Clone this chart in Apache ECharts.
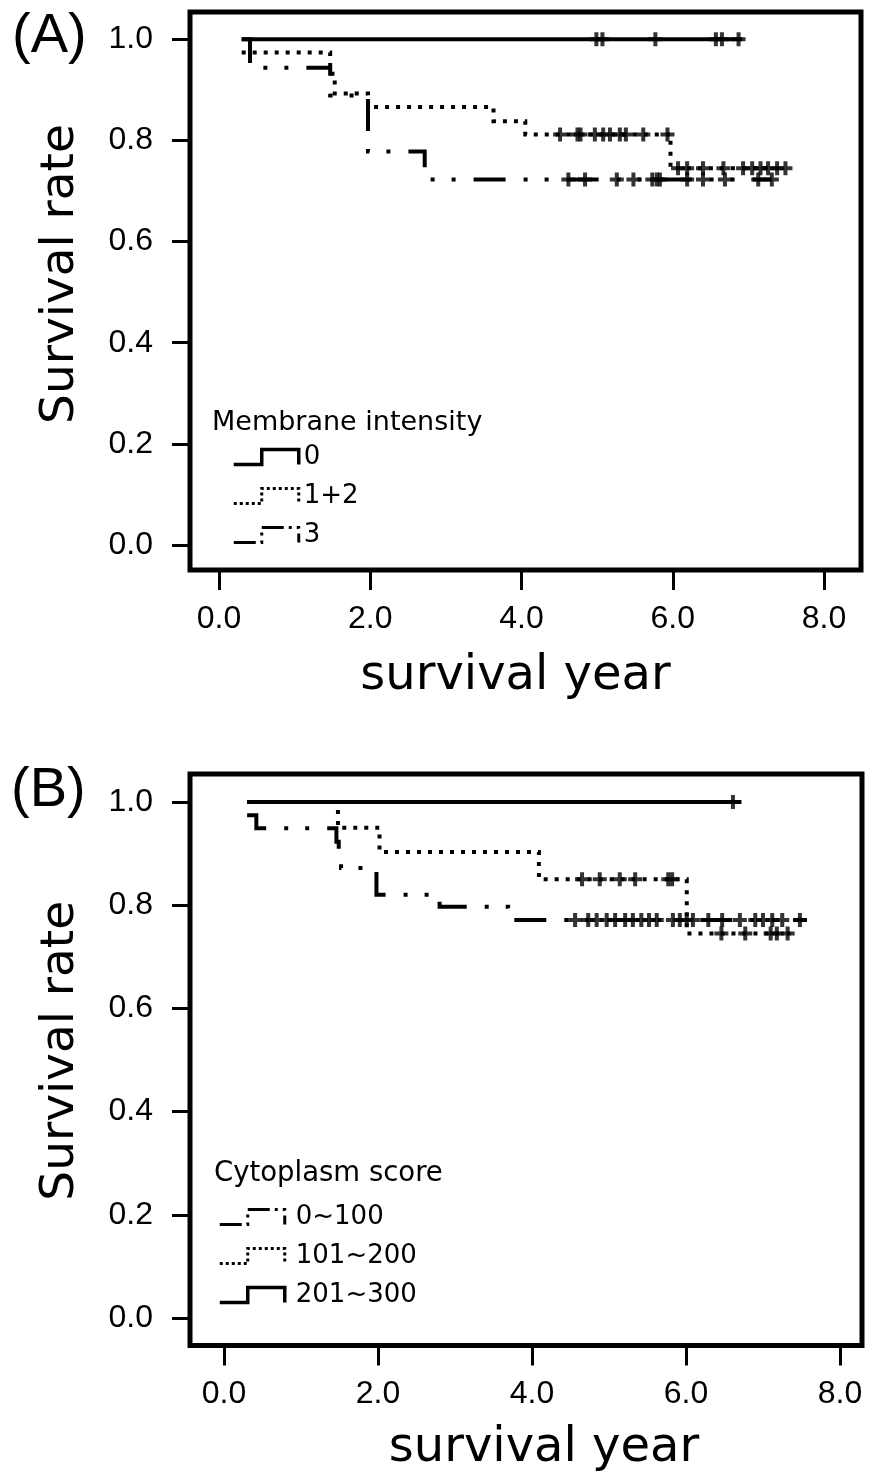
<!DOCTYPE html>
<html><head><meta charset="utf-8">
<script src="https://cdn.jsdelivr.net/npm/echarts@6/dist/echarts.min.js"></script>
<style>html,body{margin:0;padding:0;background:#fff}#c{width:883px;height:1477px}</style>
</head><body><div id="c"></div>
<script>
// ---------- shared tick labels ----------
const xTicks = [0, 2, 4, 6, 8];
const yTicks = [0, 0.2, 0.4, 0.6, 0.8, 1.0];

// ---------- Panel A : Membrane intensity ----------
const aLegendTitle = 'Membrane intensity';
const aNames = ['0', '1+2', '3'];
const aTime0 = [0.30, 6.92];
const aSurv0 = [1.0, 1.0];
const aCens0 = [4.99, 5.07, 5.77, 6.57, 6.65, 6.87];
const aTime12 = [0.30, 1.47, 1.50, 1.53, 1.97, 3.63, 4.05, 5.97, 7.50];
const aSurv12 = [0.974, 0.947, 0.921, 0.893, 0.866, 0.838, 0.812, 0.745, 0.745];
const aCens12 = [4.51, 4.74, 4.78, 4.97, 5.08, 5.17, 5.30, 5.38, 5.61, 5.93,
                 6.07, 6.19, 6.40, 6.67, 6.93, 7.05, 7.16, 7.26, 7.38, 7.49];
const aTime3 = [0.30, 0.41, 1.47, 1.97, 2.72, 7.31];
const aSurv3 = [1.0, 0.944, 0.889, 0.778, 0.723, 0.723];
const aCens3 = [4.62, 4.84, 5.26, 5.48, 5.73, 5.79, 5.83, 6.19, 6.40, 6.69, 7.13, 7.31];

// ---------- Panel B : Cytoplasm score ----------
const bLegendTitle = 'Cytoplasm score';
const bNames = ['0~100', '101~200', '201~300'];
const bTimeLow = [0.30, 0.42, 1.46, 1.49, 1.52, 1.98, 2.80, 3.69, 7.57];
const bSurvLow = [0.974, 0.949, 0.923, 0.897, 0.872, 0.820, 0.797, 0.771, 0.771];
const bCensLow = [4.56, 4.73, 4.84, 4.97, 5.08, 5.21, 5.31, 5.42, 5.52, 5.62, 5.83,
                  5.92, 6.01, 6.09, 6.29, 6.47, 6.70, 6.90, 7.00, 7.12, 7.25, 7.48];
const bTimeMid = [0.30, 1.48, 2.02, 4.09, 6.01, 7.39];
const bSurvMid = [1.0, 0.950, 0.903, 0.850, 0.745, 0.745];
const bCensMid = [4.65, 4.88, 5.14, 5.34, 5.77, 5.82, 6.46, 6.77, 7.10, 7.18, 7.32];
const bTimeHigh = [0.30, 6.72];
const bSurvHigh = [1.0, 1.0];
const bCensHigh = [6.61];

// ---------- helpers ----------
function stepData(t, s) { return t.map((v, i) => [v, s[i]]); }
function survAt(t, s, x) { let v = s[0]; for (let i = 0; i < t.length; i++) { if (t[i] <= x) v = s[i]; } return v; }
function censData(t, s, c) { return c.map(x => [x, survAt(t, s, x)]); }

const SOLID = 'solid';
const DOTTED = [4, 7];
const DASHDOT = [32, 18, 4, 17, 4, 18];
const PLUS = 'path://M5,0H9V5H14V9H9V14H5V9H0V5H5Z';
const STEP_ICON = 'path://M0,15L28,15L28,0L65,0L65,15';
const TICK_FONT = 'Liberation Sans';
const NAME_FONT = 'DejaVu Sans';

function lineSeries(name, gi, t, s, type) {
  return { name: name, type: 'line', step: 'end', xAxisIndex: gi, yAxisIndex: gi,
    data: stepData(t, s), symbol: 'none', silent: true, animation: false,
    itemStyle: { color: '#000' },
    lineStyle: { color: '#000', width: 4, type: type, cap: 'butt', join: 'miter' } };
}
function censSeries(gi, t, s, c) {
  return { type: 'scatter', xAxisIndex: gi, yAxisIndex: gi, data: censData(t, s, c),
    symbol: PLUS, symbolSize: 14, itemStyle: { color: '#000' }, silent: true, animation: false, z: 3 };
}
function xAxis(gi, min, max, padName, gap) {
  return { type: 'value', gridIndex: gi, min: min, max: max,
    axisLine: { show: false, onZero: false }, splitLine: { show: false },
    axisTick: { show: true, inside: false, length: 20, customValues: xTicks, lineStyle: { color: '#000', width: 3 } },
    axisLabel: { customValues: xTicks, margin: 33, color: '#000', fontFamily: TICK_FONT, fontSize: 32,
      formatter: v => v.toFixed(1) },
    name: 'survival year', nameLocation: 'middle', nameGap: gap,
    nameTextStyle: { fontFamily: NAME_FONT, fontSize: 48, color: '#000', padding: padName } };
}
function yAxis(gi, min, max, padName) {
  return { type: 'value', gridIndex: gi, min: min, max: max,
    axisLine: { show: false, onZero: false }, splitLine: { show: false },
    axisTick: { show: true, inside: false, length: 18, customValues: yTicks, lineStyle: { color: '#000', width: 3 } },
    axisLabel: { customValues: yTicks, margin: 37, color: '#000', fontFamily: TICK_FONT, fontSize: 32,
      formatter: v => v.toFixed(1) },
    name: 'Survival rate', nameLocation: 'middle', nameGap: 106,
    nameTextStyle: { fontFamily: NAME_FONT, fontSize: 47, color: '#000', padding: padName } };
}
function legend(names, types, left, top, gap, textPad) {
  return { orient: 'vertical', left: left, top: top, itemWidth: 65, itemHeight: 15, itemGap: gap,
    selectedMode: false, icon: STEP_ICON, padding: 0,
    textStyle: { fontFamily: NAME_FONT, fontSize: 26, color: '#000', padding: [0, 0, 0, textPad] },
    itemStyle: { color: 'rgba(0,0,0,0)', borderColor: '#000', borderWidth: 3 },
    data: names.map((n, i) => ({ name: n, itemStyle: { borderType: types[i], borderWidth: types[i] === SOLID ? 3.5 : 3 } })) };
}

const chart = echarts.init(document.getElementById('c'), null, { renderer: 'canvas' });
chart.setOption({
  backgroundColor: '#fff',
  animation: false,
  title: [
    { text: aLegendTitle, left: 212, top: 409, padding: 0, textStyle: { fontFamily: NAME_FONT, fontSize: 27, fontWeight: 'normal', color: '#000' } },
    { text: bLegendTitle, left: 214, top: 1160, padding: 0, textStyle: { fontFamily: NAME_FONT, fontSize: 27.5, fontWeight: 'normal', color: '#000' } }
  ],
  graphic: [
    { type: 'text', left: 12, top: 9, style: { text: '(A)', font: '56px "Liberation Sans"', fill: '#000' } },
    { type: 'text', left: 11, top: 763, style: { text: '(B)', font: '56px "Liberation Sans"', fill: '#000' } }
  ],
  grid: [
    { left: 190, top: 12, width: 671, height: 558, show: true, borderColor: '#000', borderWidth: 5, backgroundColor: 'transparent' },
    { left: 190, top: 774, width: 672, height: 571.5, show: true, borderColor: '#000', borderWidth: 5, backgroundColor: 'transparent' }
  ],
  xAxis: [ xAxis(0, -0.3835, 8.489, [0, 20, 0, 0], 83), xAxis(1, -0.4416, 8.286, [0, 0, 0, 36], 79) ],
  yAxis: [ yAxis(0, -0.0494, 1.054, [0, 0, 0, 34]), yAxis(1, -0.053, 1.054, [0, 0, 0, 18]) ],
  legend: [
    legend(aNames, [SOLID, [3, 3], [22, 5, 3, 5, 3, 5]], 232, 444, 13, 0),
    legend(bNames, [[22, 5, 3, 5, 3, 5], [3, 3], SOLID], 218, 1204, 13, 6)
  ],
  series: [
    lineSeries(aNames[2], 0, aTime3, aSurv3, DASHDOT),
    lineSeries(aNames[1], 0, aTime12, aSurv12, DOTTED),
    lineSeries(aNames[0], 0, aTime0, aSurv0, SOLID),
    censSeries(0, aTime3, aSurv3, aCens3),
    censSeries(0, aTime12, aSurv12, aCens12),
    censSeries(0, aTime0, aSurv0, aCens0),
    lineSeries(bNames[0], 1, bTimeLow, bSurvLow, DASHDOT),
    lineSeries(bNames[1], 1, bTimeMid, bSurvMid, DOTTED),
    lineSeries(bNames[2], 1, bTimeHigh, bSurvHigh, SOLID),
    censSeries(1, bTimeLow, bSurvLow, bCensLow),
    censSeries(1, bTimeMid, bSurvMid, bCensMid),
    censSeries(1, bTimeHigh, bSurvHigh, bCensHigh)
  ]
});
</script></body></html>
